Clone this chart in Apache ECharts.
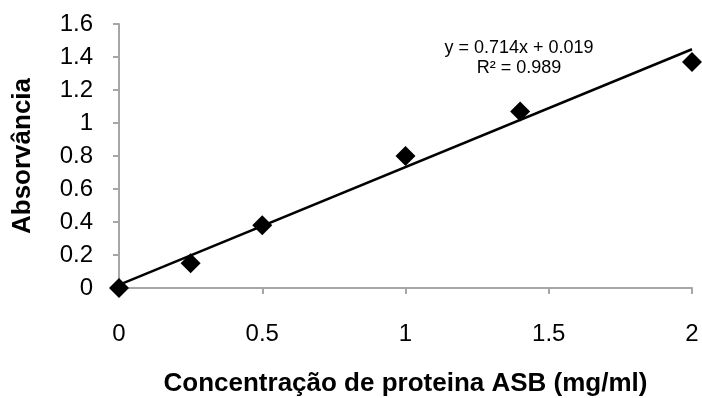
<!DOCTYPE html>
<html>
<head>
<meta charset="utf-8">
<script src="https://cdn.jsdelivr.net/npm/echarts@6/dist/echarts.min.js"></script>
<style>html,body{margin:0;padding:0;background:#fff}#c{width:702px;height:398px}</style>
</head>
<body>
<div id="c"></div>
<script>
var concentration = [0, 0.25, 0.5, 1, 1.4, 2];
var absorbance = [0.0, 0.15, 0.38, 0.80, 1.07, 1.37];
var trendX = [0, 2];
var trendY = [0.019, 1.447];
var equationLines = ['y = 0.714x + 0.019', 'R² = 0.989'];
var xTitle = 'Concentração de proteina ASB (mg/ml)';
var yTitle = 'Absorvância';

var font = '"Liberation Sans", Arial, sans-serif';
var axisGray = '#a6a6a6';
var chart = echarts.init(document.getElementById('c'), null, {renderer: 'canvas'});
chart.setOption({
  animation: false,
  backgroundColor: '#fff',
  grid: {left: 119, right: 10, top: 24, bottom: 110, containLabel: false, outerBoundsMode: 'none'},
  xAxis: {
    type: 'value', min: 0, max: 2, interval: 0.5,
    name: xTitle, nameLocation: 'middle', nameGap: 83,
    nameTextStyle: {fontFamily: font, fontSize: 26, fontWeight: 'bold', color: '#000'},
    axisLine: {show: true, lineStyle: {color: axisGray, width: 2}},
    axisTick: {show: true, length: 6, lineStyle: {color: axisGray, width: 2}},
    axisLabel: {margin: 34, fontFamily: font, fontSize: 24, color: '#000'},
    splitLine: {show: false}
  },
  yAxis: {
    type: 'value', min: 0, max: 1.6, interval: 0.2,
    name: yTitle, nameLocation: 'middle', nameGap: 83, nameRotate: 90,
    nameTextStyle: {fontFamily: font, fontSize: 26, fontWeight: 'bold', color: '#000'},
    axisLine: {show: true, lineStyle: {color: axisGray, width: 2}},
    axisTick: {show: true, length: 6, lineStyle: {color: axisGray, width: 2}},
    axisLabel: {margin: 26, fontFamily: font, fontSize: 24, color: '#000'},
    splitLine: {show: false}
  },
  graphic: [
    {type: 'text', x: 519, y: 48, style: {text: equationLines[0], font: '18px "Liberation Sans", Arial, sans-serif', fill: '#000', textAlign: 'center', textVerticalAlign: 'middle'}},
    {type: 'text', x: 519, y: 68, style: {text: equationLines[1], font: '18px "Liberation Sans", Arial, sans-serif', fill: '#000', textAlign: 'center', textVerticalAlign: 'middle'}}
  ],
  series: [
    {
      type: 'line', data: trendX.map(function (x, i) { return [x, trendY[i]]; }),
      symbol: 'none', lineStyle: {color: '#000', width: 2.5}, z: 2
    },
    {
      type: 'scatter', data: concentration.map(function (x, i) { return [x, absorbance[i]]; }),
      symbol: 'diamond', symbolSize: 20, itemStyle: {color: '#000', opacity: 1}, z: 3
    }
  ]
});
</script>
</body>
</html>
